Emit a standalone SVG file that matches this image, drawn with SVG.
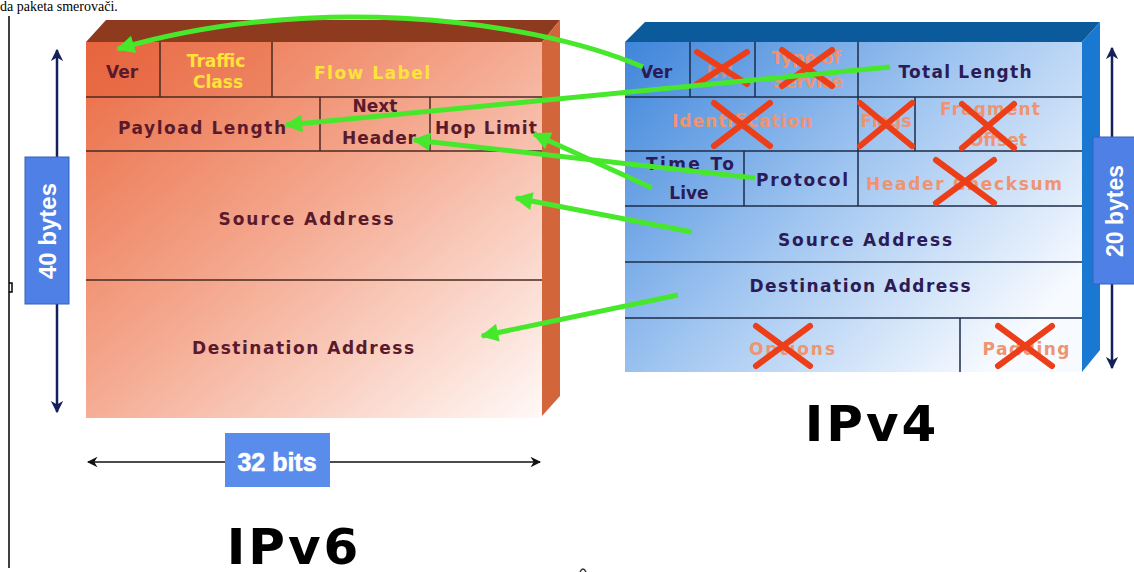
<svg xmlns="http://www.w3.org/2000/svg" width="1134" height="572" viewBox="0 0 1134 572">
<defs>
<linearGradient id="g6" x1="0" y1="0" x2="1" y2="1">
<stop offset="0" stop-color="#EA6A42"/>
<stop offset="0.45" stop-color="#F4A68C"/>
<stop offset="1" stop-color="#FFF9F7"/>
</linearGradient>
<linearGradient id="g4" x1="0" y1="0" x2="1" y2="0.7">
<stop offset="0" stop-color="#3E85DA"/>
<stop offset="0.5" stop-color="#9EC4F0"/>
<stop offset="1" stop-color="#F7FAFF"/>
</linearGradient>
<marker id="ga" viewBox="0 0 10 10" refX="9" refY="5" markerWidth="4.2" markerHeight="3.6" orient="auto" markerUnits="strokeWidth">
<path d="M0,0 L10,5 L0,10 Z" fill="#47E82C"/>
</marker>
<marker id="nu" viewBox="0 0 10 10" refX="9" refY="5" markerWidth="6" markerHeight="5" orient="auto" markerUnits="strokeWidth">
<path d="M0,0 L10,5 L0,10 L3,5 Z" fill="#14205A"/>
</marker>
<marker id="bk" viewBox="0 0 10 10" refX="9" refY="5" markerWidth="10" markerHeight="7" orient="auto" markerUnits="strokeWidth">
<path d="M0,0 L10,5 L0,10 L3,5 Z" fill="#111"/>
</marker>
</defs>
<style>
.t{font-family:"DejaVu Sans",Verdana,sans-serif;font-weight:bold;font-size:17px;text-anchor:middle}
.m{fill:#5A1A2C}
.y{fill:#FFE23A}
.p{fill:#2C1B55}
.o{fill:#EE9470}
.cell6{fill:none;stroke:#4A2A22;stroke-width:1.5}
.cell4{fill:none;stroke:#1C2C48;stroke-width:1.5}
.x{stroke:#EC3E18;stroke-width:6;stroke-linecap:round}
.gl{fill:none;stroke:#47E82C;stroke-width:5;marker-end:url(#ga)}
.big{font-family:"DejaVu Sans",Verdana,sans-serif;font-weight:bold;font-size:50px;fill:#000;text-anchor:middle}
.dim{font-family:"Liberation Sans",Arial,sans-serif;font-weight:bold;fill:#fff;text-anchor:middle}
</style>
<rect width="1134" height="572" fill="#fff"/>
<text x="0" y="11" font-family="Liberation Serif,serif" font-size="14" fill="#000">da paketa smerovači.</text>
<path d="M9,16 V568" stroke="#000" stroke-width="1.5"/>
<path d="M9,283 h3 v9 h-3" stroke="#000" stroke-width="1.5" fill="none"/>
<path d="M580,572 q3,-6 6,0" stroke="#333" stroke-width="1.5" fill="none"/>

<g id="ipv6">
<polygon points="86,42 106,20 560,20 542,42" fill="#8E3A1E"/>
<polygon points="542,42 560,20 560,396 542,416" fill="#D2663A"/>
<rect x="86" y="42" width="456" height="376" fill="url(#g6)"/>
<rect x="86" y="42" width="74" height="55" fill="#E3603A" opacity="0.5"/>
<rect x="160" y="42" width="112" height="55" fill="#E8704A" opacity="0.35"/>
<path class="cell6" d="M86,97 H542 M86,151 H542 M86,280 H542 M160,42 V97 M272,42 V97 M320,97 V151 M430,97 V151"/>
<text class="t m" x="122" y="78">Ver</text>
<text class="t y" x="216" y="67" font-size="14">Traffic</text>
<text class="t y" x="218" y="88" font-size="14">Class</text>
<text class="t y" x="372" y="79" textLength="116" lengthAdjust="spacing">Flow Label</text>
<text class="t m" x="202" y="134" textLength="168" lengthAdjust="spacing">Payload Length</text>
<text class="t m" x="375" y="112" font-size="15">Next</text>
<text class="t m" x="379" y="144" textLength="74" lengthAdjust="spacing">Header</text>
<text class="t m" x="486" y="134" textLength="102" lengthAdjust="spacing">Hop Limit</text>
<text class="t m" x="306" y="225" textLength="175" lengthAdjust="spacing">Source Address</text>
<text class="t m" x="303" y="354" textLength="222" lengthAdjust="spacing">Destination Address</text>
</g>

<g id="ipv6-height">
<path d="M57,230 V50" stroke="#14205A" stroke-width="2.5" fill="none" marker-end="url(#nu)"/>
<path d="M57,230 V412" stroke="#14205A" stroke-width="2.5" fill="none" marker-end="url(#nu)"/>
<rect x="25" y="157" width="44" height="147" fill="#4F80E6" stroke="#3560C0" stroke-width="1"/>
<text class="dim" font-size="24" transform="translate(56,231) rotate(-90)">40 bytes</text>
</g>

<g id="ipv6-width">
<path d="M230,462 H88" stroke="#111" stroke-width="1.5" fill="none" marker-end="url(#bk)"/>
<path d="M320,462 H540" stroke="#111" stroke-width="1.5" fill="none" marker-end="url(#bk)"/>
<rect x="225" y="433" width="105" height="54" fill="#5A8CEB"/>
<text class="dim" x="277" y="471" font-size="25" font-weight="normal" fill="#fff" stroke="#fff" stroke-width="0.6">32 bits</text>
</g>

<text class="big" x="294" y="564" letter-spacing="3">IPv6</text>

<g id="ipv4">
<polygon points="625,42 645,22 1100,22 1082,42" fill="#0B5A9C"/>
<polygon points="1082,42 1100,22 1100,350 1082,372" fill="#1878D2"/>
<rect x="625" y="42" width="457" height="330" fill="url(#g4)"/>
<path class="cell4" d="M625,97 H1082 M625,151 H1082 M625,206 H1082 M625,262 H1082 M625,318 H1082 M690,42 V97 M755,42 V97 M858,42 V206 M915,97 V151 M744,151 V206 M960,318 V372"/>
<text class="t p" x="656" y="78">Ver</text>
<text class="t o" x="722" y="78" opacity="0.6">IHL</text>
<text class="t o" x="806" y="64" font-size="14">Type of</text>
<text class="t o" x="808" y="88" font-size="14">Service</text>
<text class="t p" x="965" y="78" textLength="133" lengthAdjust="spacing">Total Length</text>
<text class="t o" x="742" y="127" textLength="140" lengthAdjust="spacing">Identification</text>
<text class="t o" x="886" y="127" font-size="13">Flags</text>
<text class="t o" x="990" y="115" textLength="100" lengthAdjust="spacing">Fragment</text>
<text class="t o" x="998" y="146">Offset</text>
<text class="t p" x="690" y="170" textLength="88" lengthAdjust="spacing">Time To</text>
<text class="t p" x="689" y="199">Live</text>
<text class="t p" x="802" y="186" textLength="92" lengthAdjust="spacing">Protocol</text>
<text class="t o" x="964" y="190" textLength="196" lengthAdjust="spacing">Header Checksum</text>
<text class="t p" x="865" y="246" textLength="174" lengthAdjust="spacing">Source Address</text>
<text class="t p" x="860" y="292" textLength="221" lengthAdjust="spacing">Destination Address</text>
<text class="t o" x="792" y="355" textLength="86" lengthAdjust="spacing">Options</text>
<text class="t o" x="1026" y="355" textLength="87" lengthAdjust="spacing">Padding</text>
<path class="x" d="M697,84 L747,52 M697,52 L747,84"/>
<path class="x" d="M782,50 L832,86 M782,86 L832,50"/>
<path class="x" d="M714,103 L770,146 M714,146 L770,103"/>
<path class="x" d="M860,103 L912,146 M860,146 L912,103"/>
<path class="x" d="M962,104 L1014,148 M962,148 L1014,104"/>
<path class="x" d="M936,160 L994,203 M936,203 L994,160"/>
<path class="x" d="M756,326 L810,366 M756,366 L810,326"/>
<path class="x" d="M998,326 L1052,366 M998,366 L1052,326"/>
</g>

<g id="ipv4-height">
<path d="M1112,210 V48" stroke="#14205A" stroke-width="2.5" fill="none" marker-end="url(#nu)"/>
<path d="M1112,210 V368" stroke="#14205A" stroke-width="2.5" fill="none" marker-end="url(#nu)"/>
<rect x="1093" y="137" width="45" height="147" fill="#4F80E6" stroke="#3560C0" stroke-width="1"/>
<text class="dim" font-size="23" transform="translate(1123,211) rotate(-90)">20 bytes</text>
</g>

<text class="big" x="872" y="441" letter-spacing="3">IPv4</text>

<g id="connectors">
<path class="gl" d="M643,67 C520,15 300,-5 118,49"/>
<path class="gl" d="M890,67 L286,125"/>
<path class="gl" d="M755,178 L414,140"/>
<path class="gl" d="M652,188 L534,134"/>
<path class="gl" d="M692,232 L516,198"/>
<path class="gl" d="M678,295 L482,336"/>
</g>
</svg>
